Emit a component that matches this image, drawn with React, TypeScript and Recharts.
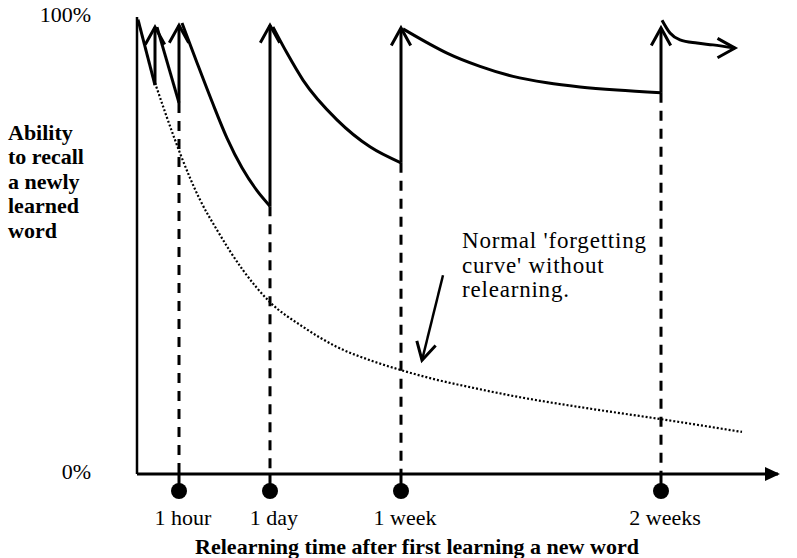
import { LineChart, Line, XAxis, YAxis } from "recharts";

const FONT = '"Liberation Serif", "Times New Roman", serif';

// x = position on the (not to scale) time axis, y = recall in %
const tickPositions = [42, 133, 264, 524];
const tickLabels = ["1 hour", "1 day", "1 week", "2 weeks"];

// each review: recall just before it and just after it
const reviewX = [18, 42, 133, 264, 524];
const reviewFrom = [85.1, 81.2, 58.6, 68.1, 83.4];
const reviewTo = [97.8, 98.2, 98.2, 97.6, 97.6];

// forgetting between reviews
const decay0 = [[1, 99.4], [18, 85.1]];
const decay1 = [[20, 97.8], [42, 81.2]];
const decay2 = [[45, 98.7], [60, 90], [75, 81.5], [90, 73.5], [105, 67], [120, 62], [133, 58.6]];
const decay3 = [[136, 97.8], [150, 92.1], [166, 86.2], [200, 77.5], [233, 71.6], [264, 68.1]];
const decay4 = [[266, 97.4], [290, 94.4], [310, 92.1], [343, 89.2], [376, 87], [410, 85.6], [443, 84.7], [480, 84], [524, 83.4]];
const decay5 = [[525, 99.3], [533, 96.5], [543, 95], [560, 94.3], [576, 93.9], [598, 93.2]];

// normal forgetting curve without relearning
const forgetting = [
  [18, 85.6], [38, 73.1], [43, 70.2], [63, 60], [80, 53.4], [106, 44.6], [133, 37.6],
  [166, 32.2], [200, 27.8], [233, 24.9], [263, 22.8], [300, 20.6], [333, 19],
  [383, 16.8], [450, 14.4], [524, 12], [605, 9.2],
];

const pointer = [[306, 43.5], [285, 24.9]];

const pts = (arr: number[][]) => arr.map(([x, y]) => ({ x, y }));

const arrowHead = (cx: number, cy: number, angle: number, len = 20, spread = 29) => {
  const a1 = ((angle + spread) * Math.PI) / 180;
  const a2 = ((angle - spread) * Math.PI) / 180;
  return `M${cx - len * Math.cos(a1)},${cy - len * Math.sin(a1)} L${cx},${cy} L${cx - len * Math.cos(a2)},${cy - len * Math.sin(a2)}`;
};

const endArrow = (angle: number, lastIndex: number) => (p: any) =>
  p.index === lastIndex ? (
    <path key={`a-${p.index}`} d={arrowHead(p.cx, p.cy, angle)} stroke="#000" strokeWidth={3} fill="none" />
  ) : (
    <g key={`a-${p.index}`} />
  );

const XTick = ({ x, y, payload }: any) => {
  const label = tickLabels[tickPositions.indexOf(payload.value)];
  return (
    <g>
      <line x1={x} x2={x} y1={y} y2={y + 16} stroke="#000" strokeWidth={3} />
      <circle cx={x} cy={y + 17} r={8} fill="#000" />
      <text x={x + 4} y={y + 51} textAnchor="middle" fontFamily={FONT} fontSize={22} fill="#000">
        {label}
      </text>
    </g>
  );
};

const YTick = ({ x, y, payload }: any) => (
  <text x={x - 46} y={y + 5} textAnchor="end" fontFamily={FONT} fontSize={22} fill="#000">
    {payload.value}%
  </text>
);

const solid = { stroke: "#000", strokeWidth: 3, isAnimationActive: false, activeDot: false } as const;

export default function App() {
  return (
    <div style={{ position: "absolute", left: 0, top: 0, width: 797, height: 558, background: "#fff" }}>
      <svg width={0} height={0} style={{ position: "absolute" }}>
        <defs>
          <marker id="axisArrow" markerWidth={15} markerHeight={14} refX={13} refY={7} orient="auto" markerUnits="userSpaceOnUse">
            <path d="M0,0 L15,7 L0,14 Z" fill="#000" />
          </marker>
        </defs>
      </svg>
      <LineChart width={797} height={558} margin={{ top: 17, right: 19, left: 77, bottom: 54 }}>
        <XAxis
          type="number"
          dataKey="x"
          domain={[0, 641]}
          ticks={tickPositions}
          interval={0}
          height={30}
          tickSize={0}
          tickMargin={0}
          tickLine={false}
          axisLine={{ stroke: "#000", strokeWidth: 3, markerEnd: "url(#axisArrow)" } as any}
          tick={<XTick />}
        />
        <YAxis
          type="number"
          dataKey="y"
          domain={[0, 100]}
          ticks={[0, 100]}
          width={60}
          tickSize={0}
          tickMargin={0}
          tickLine={false}
          axisLine={{ stroke: "#000", strokeWidth: 2.5 }}
          tick={<YTick />}
        />
        <Line data={pts(forgetting)} dataKey="y" type="monotone" stroke="#000" strokeWidth={2.2} strokeDasharray="2 2" dot={false} activeDot={false} isAnimationActive={false} />
        {tickPositions.map((x, i) => (
          <Line
            key={`dash-${i}`}
            data={[{ x, y: reviewFrom[i + 1] }, { x, y: 0 }]}
            dataKey="y"
            type="linear"
            stroke="#000"
            strokeWidth={3}
            strokeDasharray="10 8"
            dot={false}
            activeDot={false}
            isAnimationActive={false}
          />
        ))}
        {[decay0, decay1].map((d, i) => (
          <Line key={`ld-${i}`} data={pts(d)} dataKey="y" type="linear" dot={false} {...solid} />
        ))}
        {[decay2, decay3, decay4].map((d, i) => (
          <Line key={`cd-${i}`} data={pts(d)} dataKey="y" type="monotone" dot={false} {...solid} />
        ))}
        <Line data={pts(decay5)} dataKey="y" type="monotone" dot={endArrow(0, decay5.length - 1)} {...solid} />
        {reviewX.map((x, i) => (
          <Line
            key={`up-${i}`}
            data={[{ x, y: reviewFrom[i] }, { x, y: reviewTo[i] }]}
            dataKey="y"
            type="linear"
            dot={endArrow(-90, 1)}
            {...solid}
          />
        ))}
        <Line data={pts(pointer)} dataKey="y" type="linear" dot={endArrow(104, 1)} {...solid} strokeWidth={2.5} />
      </LineChart>
      <div
        style={{
          position: "absolute",
          left: 8,
          top: 121,
          fontFamily: FONT,
          fontWeight: "bold",
          fontSize: 22,
          lineHeight: "24.4px",
          whiteSpace: "nowrap",
        }}
      >
        Ability
        <br />
        to recall
        <br />
        a newly
        <br />
        learned
        <br />
        word
      </div>
      <div
        style={{
          position: "absolute",
          left: 462,
          top: 229,
          fontFamily: FONT,
          fontSize: 23,
          letterSpacing: "0.8px",
          lineHeight: "24.5px",
          whiteSpace: "nowrap",
        }}
      >
        Normal 'forgetting
        <br />
        curve' without
        <br />
        relearning.
      </div>
      <div
        style={{
          position: "absolute",
          left: 117,
          width: 600,
          top: 536,
          textAlign: "center",
          fontFamily: FONT,
          fontWeight: "bold",
          fontSize: 22,
          lineHeight: "21px",
          whiteSpace: "nowrap",
        }}
      >
        Relearning time after first learning a new word
      </div>
    </div>
  );
}
